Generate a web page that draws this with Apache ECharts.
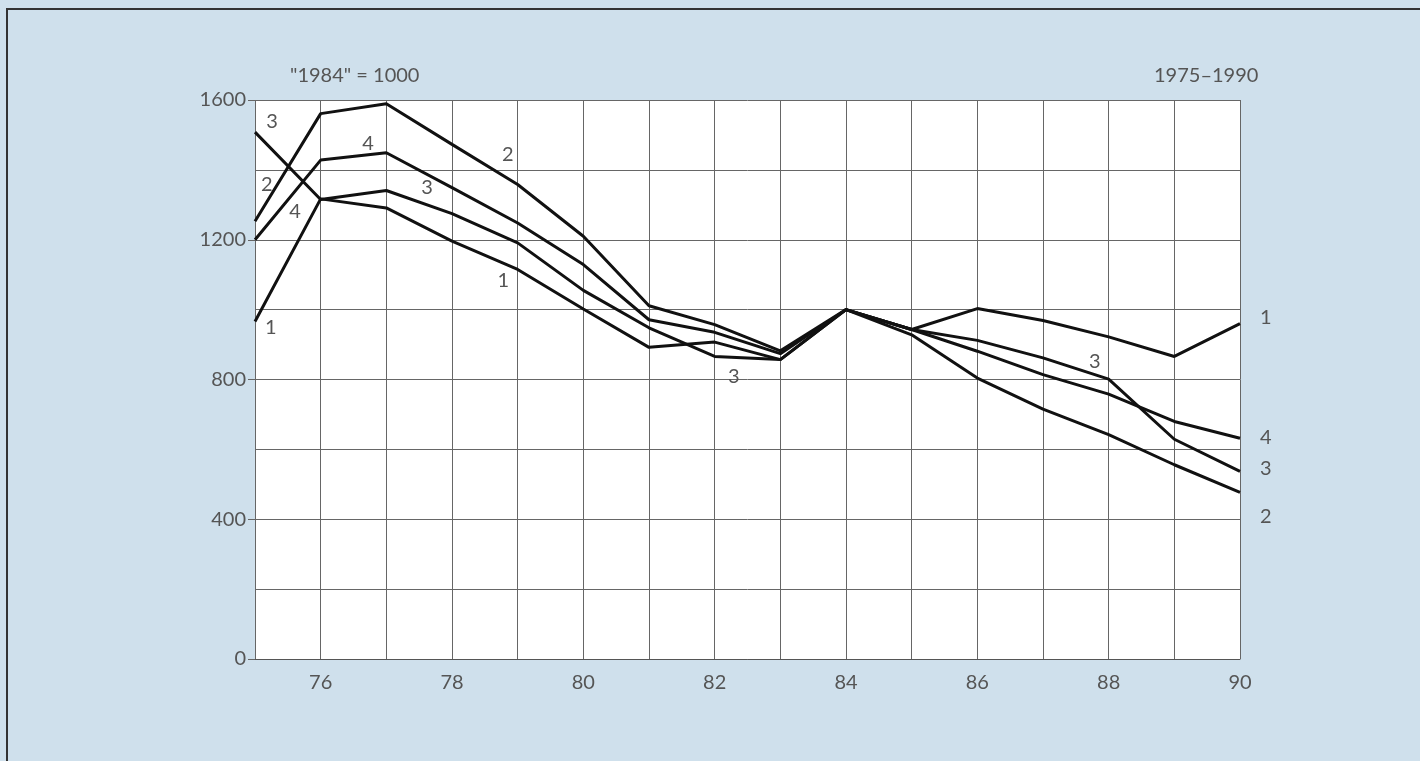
<!DOCTYPE html>
<html>
<head>
<meta charset="utf-8">
<script src="https://cdn.jsdelivr.net/npm/echarts@6/dist/echarts.min.js"></script>
<style>
html,body{margin:0;padding:0;width:1420px;height:761px;overflow:hidden;background:#cfe0ec;}
#frame{position:absolute;left:6px;top:8px;right:0;bottom:0;border-left:2px solid #333;border-top:2px solid #333;}
#main{position:absolute;left:0;top:0;width:1420px;height:761px;}
</style>
</head>
<body>
<div id="frame"></div>
<div id="main"></div>
<script>
var years = [75,76,77,78,79,80,81,82,83,84,85,86,87,88,89,90];
var s1 = [966,1317,1291,1196,1115,1002,892,907,857,1000,943,1003,969,922,866,960];
var s2 = [1253,1561,1589,1473,1358,1210,1011,957,882,1000,928,804,715,642,556,477];
var s3 = [1508,1315,1341,1275,1191,1055,948,866,857,1000,943,912,862,801,629,537];
var s4 = [1200,1428,1449,1349,1248,1129,971,935,874,1000,943,881,814,758,680,632];
var seriesNames = ['1','2','3','4'];
// label annotations inside the plot: [year, value, text]
var notes = [
  [75.26,1539,'3'],[75.18,1358,'2'],[75.61,1281,'4'],[75.24,948,'1'],
  [76.72,1476,'4'],[78.85,1444,'2'],[77.62,1350,'3'],[78.78,1083,'1'],
  [82.29,808,'3'],[87.79,851,'3']
];
var endOffsets = {'1':[12,-6],'2':[12,24],'3':[12,-3],'4':[12,-1]};

function pairs(arr){
  var out=[];
  for(var i=0;i<arr.length;i++) out.push([years[i],arr[i]]);
  return out;
}
var textColor = '#555';
var fontFam = 'Lato, "DejaVu Sans", sans-serif';
var fs = 20;
var myChart = echarts.init(document.getElementById('main'));
var allData = [s1,s2,s3,s4];
var series = [];
for(var k=0;k<4;k++){
  var nm = seriesNames[k];
  var sr = {
    name: nm,
    type: 'line',
    data: pairs(allData[k]),
    symbol: 'none',
    lineStyle: {color:'#111', width:3},
    z: 5,
    endLabel: {
      show: true, formatter: nm, color: textColor, fontSize: fs, fontFamily: fontFam,
      offset: endOffsets[nm], align: 'left'
    }
  };
  if(k===0){
    sr.markPoint = {
      symbol: 'circle', symbolSize: 0, silent: true,
      label: {show:true, position:'inside', color:textColor, fontSize:fs, fontFamily:fontFam,
        formatter: function(p){return p.name;}},
      data: notes.map(function(n){return {name:n[2], coord:[n[0],n[1]]};})
    };
  }
  series.push(sr);
}
var option = {
  animation: false,
  grid: {left:255, right:180, top:100, bottom:102, show:true, backgroundColor:'#fff', borderWidth:0},
  graphic: [
    {type:'text', left:290, top:66, style:{text:'"1984" = 1000', fill:textColor, fontSize:fs, fontFamily:fontFam}},
    {type:'text', left:1154, top:66, style:{text:'1975\u20131990', fill:textColor, fontSize:fs, fontFamily:fontFam}}
  ],
  xAxis: {
    type:'value', min:75, max:90, interval:1,
    axisLine:{show:true, lineStyle:{color:'#555', width:1}},
    axisTick:{show:false},
    axisLabel:{color:textColor, fontSize:fs, fontFamily:fontFam, margin:14,
      formatter:function(v){return (v%2===0)?String(v):'';}},
    splitLine:{show:true, lineStyle:{color:'#666', width:1}}
  },
  yAxis: {
    type:'value', min:0, max:1600, interval:400,
    axisLine:{show:false},
    axisTick:{show:true, length:7, lineStyle:{color:'#666'}},
    axisLabel:{color:textColor, fontSize:fs, fontFamily:fontFam, margin:9,
      formatter:function(v){return String(v);}},
    splitLine:{show:true, lineStyle:{color:'#666', width:1}},
    minorTick:{show:false, splitNumber:2},
    minorSplitLine:{show:true, lineStyle:{color:'#666', width:1}}
  },
  series: series
};
myChart.setOption(option);
</script>
</body>
</html>
